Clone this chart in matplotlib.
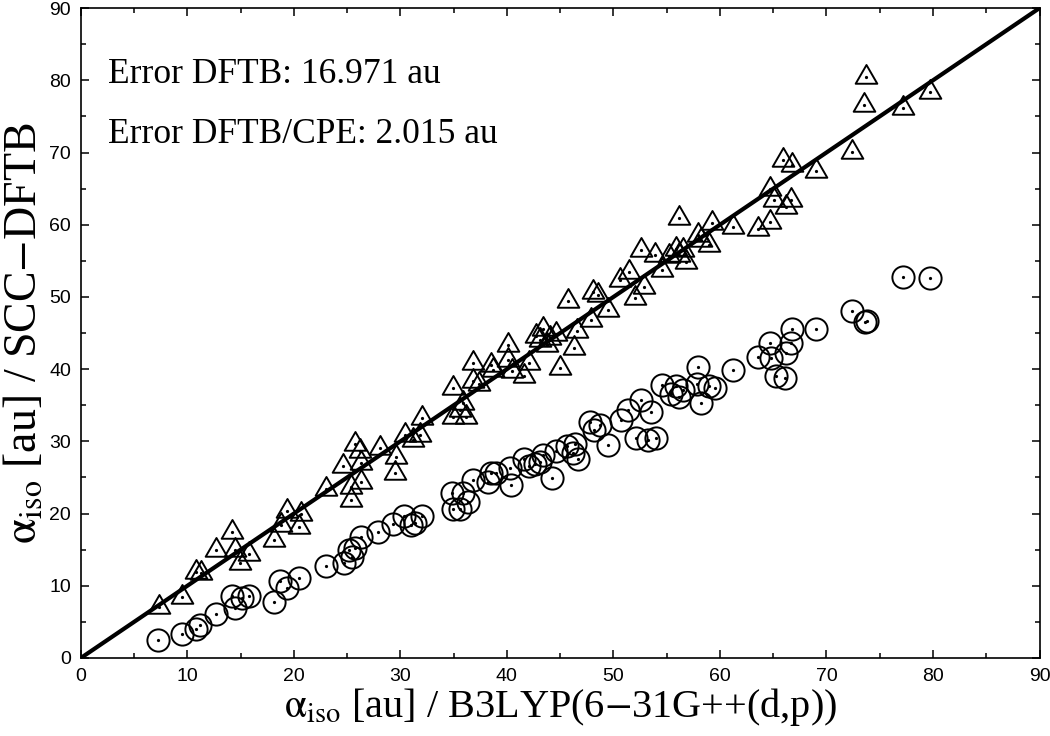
import matplotlib
matplotlib.use("Agg")
import matplotlib.pyplot as plt
from matplotlib.path import Path

# DFTB/CPE results (triangles)
cpe_x = [7.3, 9.45, 10.85, 11.3, 12.7, 14.2, 14.45, 14.9, 15.8, 18.1, 18.8, 19.4, 20.5, 20.7,
         23.05, 24.6, 25.4, 25.4, 25.7, 26.2, 26.3, 26.3, 28.1, 29.5, 29.6, 30.4, 31.2, 31.8,
         32.0, 34.95, 34.95, 35.6, 35.9, 36.2, 36.8, 36.8, 37.4, 38.5, 38.7, 40.1, 40.1, 40.5,
         41.6, 42.1, 42.7, 43.1, 43.4, 43.8, 44.0, 44.6, 44.95, 45.7, 46.3, 46.6, 47.9, 48.1,
         48.55, 49.5, 50.6, 51.5, 52.0, 52.9, 52.6, 53.9, 54.6, 55.2, 55.9, 56.2, 56.5, 56.8,
         56.2, 57.9, 58.2, 59.0, 59.3, 61.2, 63.6, 64.7, 64.7, 65.1, 66.2, 66.7, 65.9, 66.8,
         69.0, 72.4, 73.5, 73.7, 77.2, 79.7]
cpe_y = [7.1, 8.5, 11.95, 11.8, 14.95, 17.5, 14.95, 13.1, 14.4, 16.3, 18.4, 20.3, 18.1, 19.9,
         23.4, 26.6, 21.9, 23.7, 29.7, 28.6, 24.4, 27.0, 29.05, 25.6, 27.9, 30.9, 30.2, 30.9,
         33.2, 37.35, 33.4, 34.3, 35.3, 33.4, 38.3, 40.8, 38.0, 40.6, 39.9, 43.3, 41.3, 39.8,
         39.1, 40.8, 44.6, 44.0, 45.6, 43.4, 44.3, 44.9, 40.2, 49.5, 42.9, 45.3, 46.8, 50.7,
         50.3, 48.2, 52.3, 53.5, 49.8, 51.4, 56.5, 55.8, 53.7, 55.6, 56.7, 55.8, 56.5, 54.9,
         60.9, 58.6, 57.9, 57.2, 60.2, 59.7, 59.4, 60.4, 65.0, 63.4, 62.5, 63.4, 69.0, 68.3,
         67.4, 70.1, 76.6, 80.5, 76.1, 78.4]

# plain DFTB results (circles)
dftb_x = [7.2, 9.45, 10.8, 11.2, 12.7, 14.2, 14.45, 15.1, 15.8, 18.1, 18.7, 19.4, 20.5, 23.05,
          24.7, 25.2, 25.5, 25.7, 26.3, 27.9, 29.3, 30.3, 31.0, 31.4, 32.0, 34.8, 34.95, 35.6,
          35.9, 36.3, 36.8, 38.2, 38.5, 39.0, 40.3, 40.4, 41.6, 42.1, 42.6, 43.1, 43.4, 44.2,
          44.6, 45.6, 46.2, 46.4, 46.7, 47.8, 48.2, 48.7, 49.5, 50.7, 51.4, 52.1, 52.6, 53.55,
          53.2, 54.0, 54.6, 55.4, 55.9, 56.2, 56.5, 57.8, 57.9, 58.2, 59.0, 59.5, 61.2, 63.6,
          64.7, 64.8, 65.3, 66.1, 66.2, 66.7, 66.8, 69.0, 72.4, 73.6, 73.8, 77.2, 79.7]
dftb_y = [2.5, 3.3, 4.0, 4.5, 6.1, 8.6, 6.9, 8.3, 8.6, 7.7, 10.7, 9.65, 11.1, 12.8,
          13.1, 14.95, 14.0, 15.2, 16.8, 17.5, 18.6, 19.6, 18.4, 18.7, 19.6, 22.8, 20.7, 20.7,
          22.8, 21.6, 24.6, 24.4, 25.6, 25.6, 26.3, 24.0, 27.5, 26.6, 26.8, 27.2, 28.1, 24.9,
          28.6, 29.3, 28.4, 29.7, 27.6, 32.7, 31.6, 32.3, 29.5, 33.0, 34.3, 30.4, 35.7, 34.1,
          30.2, 30.4, 37.8, 36.6, 37.6, 36.2, 37.1, 38.0, 40.3, 35.3, 37.6, 37.35, 39.9, 41.7,
          43.6, 41.6, 39.0, 38.8, 42.2, 43.6, 45.6, 45.6, 48.0, 46.5, 46.7, 52.8, 52.6]

err_lines = ["Error DFTB: 16.971 au", "Error DFTB/CPE: 2.015 au"]

plt.rcParams['mathtext.fontset'] = 'stix'

fig = plt.figure(figsize=(10.5, 7.36), dpi=100)
ax = fig.add_axes([0.077, 0.106, 0.913, 0.883])

# equilateral triangle centred on its centroid
tri = Path([(0, 1), (-0.866, -0.5), (0.866, -0.5), (0, 1)], closed=True)
ax.plot(cpe_x, cpe_y, linestyle='none', marker=tri, markersize=18, markerfacecolor='none',
        markeredgecolor='black', markeredgewidth=1.4)
ax.plot(dftb_x, dftb_y, linestyle='none', marker='o', markersize=16, markerfacecolor='none',
        markeredgecolor='black', markeredgewidth=1.4)
ax.plot(cpe_x + dftb_x, cpe_y + dftb_y, linestyle='none', marker='o', markersize=1.3,
        color='black')
ax.plot([0, 90], [0, 90], color='black', linewidth=3, zorder=5)

ax.set_xlim(0, 90)
ax.set_ylim(0, 90)
ax.set_xticks(range(0, 91, 10))
ax.set_yticks(range(0, 91, 10))
ax.set_xticks(range(5, 90, 10), minor=True)
ax.set_yticks(range(5, 90, 10), minor=True)
ax.tick_params(which='both', direction='in', top=True, right=True, width=1.1)
ax.tick_params(which='major', length=6, labelsize=14, pad=7)
ax.tick_params(which='minor', length=3.5)
for lab in ax.get_xticklabels() + ax.get_yticklabels():
    lab.set_family('Liberation Sans')
for s in ax.spines.values():
    s.set_linewidth(1.2)

ax.set_xlabel(r'$\mathrm{\alpha_{iso}}$ [au] / B3LYP(6$-$31G++(d,p))',
              family='Liberation Serif', fontsize=29, labelpad=1)
ax.set_ylabel(r'$\mathrm{\alpha_{iso}}$ [au] / SCC$-$DFTB', family='Liberation Serif',
              fontsize=33, labelpad=2)

for i, t in enumerate(err_lines):
    ax.text(0.028, 0.885 - i * 0.092, t, transform=ax.transAxes, family='Liberation Serif',
            fontsize=25.5, va='baseline', ha='left')

fig.savefig('out.png', dpi=100)
